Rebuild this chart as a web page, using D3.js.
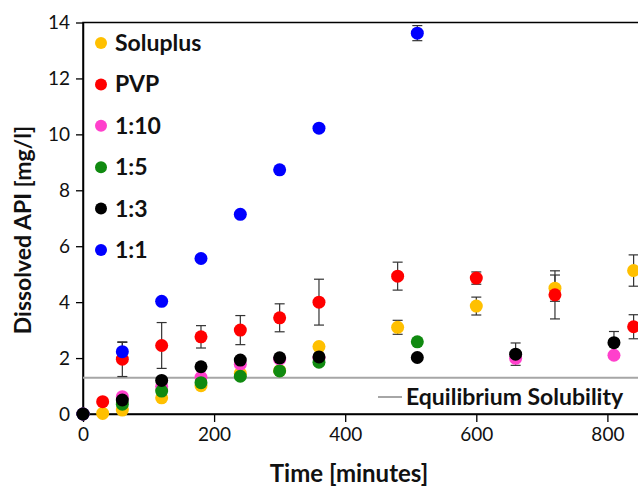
<!DOCTYPE html>
<html>
<head>
<meta charset="utf-8">
<script src="https://cdn.jsdelivr.net/npm/d3@7"></script>
<style>
  body { margin: 0; background: #fff; }
  svg { display: block; font-family: Lato, "Open Sans", sans-serif; }
</style>
</head>
<body>
<svg id="chart" width="638" height="486"></svg>
<script>
// series names, in legend order
var seriesNames = ["Soluplus", "PVP", "1:10", "1:5", "1:3", "1:1"];
var seriesColors = ["#FFC000", "#FF0000", "#FF40CC", "#108A10", "#000000", "#0000FF"];
// order the markers are painted in (1:3 ends up on top at t = 0)
var drawOrder = [0, 1, 2, 3, 5, 4];

// time [minutes], dissolved API [mg/l], error (0 = no bar)
var solTime = [0, 30, 60, 120, 180, 240, 300, 360, 480, 600, 720, 840];
var solVal  = [0, 0.02, 0.14, 0.58, 1.01, 1.45, 1.55, 2.41, 3.1, 3.86, 4.5, 5.13];
var solErr  = [0, 0, 0, 0, 0, 0, 0, 0, 0.25, 0.32, 0.47, 0.56];

var pvpTime = [0, 30, 60, 120, 180, 240, 300, 360, 480, 600, 720, 840];
var pvpVal  = [0, 0.44, 1.96, 2.45, 2.76, 3.0, 3.44, 4.0, 4.93, 4.86, 4.26, 3.12];
var pvpErr  = [0, 0, 0.62, 0.82, 0.4, 0.52, 0.5, 0.82, 0.5, 0.22, 0.86, 0.43];

var r110Time = [0, 60, 120, 180, 240, 300, 360, 660, 810];
var r110Val  = [0, 0.62, 0.98, 1.31, 1.78, 1.96, 2.0, 1.99, 2.1];
var r110Err  = [0, 0, 0, 0, 0, 0, 0, 0, 0];

var r15Time = [0, 60, 120, 180, 240, 300, 360, 510];
var r15Val  = [0, 0.35, 0.82, 1.12, 1.35, 1.54, 1.85, 2.58];
var r15Err  = [0, 0, 0, 0, 0, 0, 0, 0];

var r13Time = [0, 60, 120, 180, 240, 300, 360, 510, 660, 810];
var r13Val  = [0, 0.5, 1.2, 1.69, 1.93, 2.01, 2.04, 2.02, 2.14, 2.55];
var r13Err  = [0, 0, 0, 0.12, 0, 0, 0, 0, 0.4, 0.4];

var r11Time = [0, 60, 120, 180, 240, 300, 360, 510];
var r11Val  = [0, 2.23, 4.03, 5.56, 7.14, 8.73, 10.22, 13.62];
var r11Err  = [0, 0.33, 0, 0, 0, 0, 0, 0.27];

var equilibrium = 1.3;
var xTicks = [0, 200, 400, 600, 800];
var yTicks = [0, 2, 4, 6, 8, 10, 12, 14];

var allTimes = [solTime, pvpTime, r110Time, r15Time, r13Time, r11Time];
var allVals  = [solVal, pvpVal, r110Val, r15Val, r13Val, r11Val];
var allErrs  = [solErr, pvpErr, r110Err, r15Err, r13Err, r11Err];

var series = seriesNames.map(function (name, i) {
  return {
    name: name,
    color: seriesColors[i],
    points: allTimes[i].map(function (t, j) {
      return { t: t, v: allVals[i][j], e: allErrs[i][j] };
    })
  };
});

var svg = d3.select("#chart");

var plotLeft = 83, plotTop = 22.5, plotBottom = 414;
var x = d3.scaleLinear().domain([0, 900]).range([plotLeft, plotLeft + 900 * 0.6555]);
var y = d3.scaleLinear().domain([0, 14]).range([plotBottom, plotTop]);

// plot frame (right side runs past the picture)
svg.append("rect")
  .attr("x", plotLeft).attr("y", plotTop)
  .attr("width", x(900) - plotLeft).attr("height", plotBottom - plotTop)
  .attr("fill", "none").attr("stroke", "#000").attr("stroke-width", 1.5);

var xAxis = svg.append("g")
  .attr("transform", "translate(0," + plotBottom + ")")
  .call(d3.axisBottom(x).tickValues(xTicks).tickSize(8).tickPadding(6).tickSizeOuter(0));
var yAxis = svg.append("g")
  .attr("transform", "translate(" + plotLeft + ",0)")
  .call(d3.axisLeft(y).tickValues(yTicks).tickSize(7).tickPadding(6).tickSizeOuter(0));

[xAxis, yAxis].forEach(function (g) {
  g.select(".domain").attr("stroke", "#000").attr("stroke-width", 1.5);
  g.selectAll(".tick line").attr("stroke", "#000").attr("stroke-width", 1.3);
  g.selectAll(".tick text").attr("fill", "#111").style("font-size", "19px").style("font-family", "Lato, sans-serif");
});

// equilibrium solubility line
svg.append("line")
  .attr("x1", plotLeft).attr("x2", 638)
  .attr("y1", y(equilibrium)).attr("y2", y(equilibrium))
  .attr("stroke", "#A6A6A6").attr("stroke-width", 2);

// error bars
var errG = svg.append("g").attr("stroke", "#333").attr("stroke-width", 1.2);
series.forEach(function (s) {
  s.points.filter(function (p) { return p.e > 0; }).forEach(function (p) {
    var cx = x(p.t);
    errG.append("line").attr("x1", cx).attr("x2", cx)
      .attr("y1", y(p.v - p.e)).attr("y2", y(p.v + p.e));
    [p.v - p.e, p.v + p.e].forEach(function (v) {
      errG.append("line").attr("x1", cx - 5).attr("x2", cx + 5)
        .attr("y1", y(v)).attr("y2", y(v));
    });
  });
});

// markers
drawOrder.forEach(function (k) {
  var s = series[k];
  svg.append("g").selectAll("circle")
    .data(s.points)
    .join("circle")
    .attr("cx", function (d) { return x(d.t); })
    .attr("cy", function (d) { return y(d.v); })
    .attr("r", 6.5)
    .attr("fill", s.color);
});

// legend
var legend = svg.append("g");
series.forEach(function (s, i) {
  var ly = 43 + i * 41.4;
  legend.append("circle").attr("cx", 101).attr("cy", ly).attr("r", 6).attr("fill", s.color);
  legend.append("text").attr("x", 115).attr("y", ly + 8)
    .style("font-size", "23px").style("font-weight", "bold").attr("fill", "#111")
    .text(s.name);
});

svg.append("line").attr("x1", 378).attr("x2", 402).attr("y1", 397).attr("y2", 397)
  .attr("stroke", "#A6A6A6").attr("stroke-width", 2);
svg.append("text").attr("x", 406).attr("y", 405)
  .style("font-size", "23px").style("font-weight", "bold").attr("fill", "#111")
  .text("Equilibrium Solubility");

// axis titles
svg.append("text").attr("x", 349).attr("y", 482)
  .attr("text-anchor", "middle")
  .style("font-size", "24px").style("font-weight", "bold").attr("fill", "#111")
  .text("Time [minutes]");
svg.append("text")
  .attr("transform", "translate(31,230) rotate(-90)")
  .attr("text-anchor", "middle")
  .style("font-size", "23px").style("font-weight", "bold").attr("fill", "#111")
  .text("Dissolved API [mg/l]");
</script>
</body>
</html>
